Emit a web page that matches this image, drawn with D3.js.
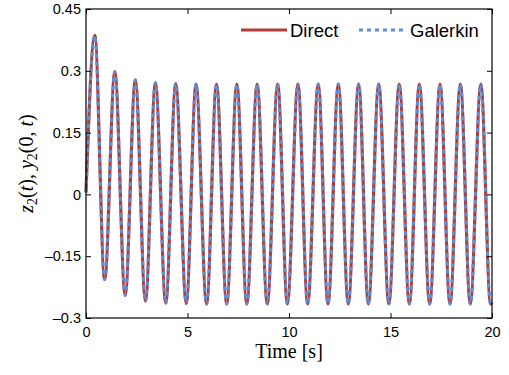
<!DOCTYPE html>
<html>
<head>
<meta charset="utf-8">
<script src="https://cdn.jsdelivr.net/npm/d3@7"></script>
<style>
  body { margin: 0; background: #fff; }
  svg { display: block; }
  .tick text { font-family: "Liberation Sans", Arial, sans-serif; font-size: 14.5px; fill: #000; }
</style>
</head>
<body>
<div id="chart"></div>
<script>
// extrema of the response (time in s, value)
const times = [0, 0.43, 0.92, 1.42, 1.93, 2.43, 2.93, 3.42, 3.93, 4.42, 4.94, 5.42, 5.94, 6.43, 6.93, 7.43, 7.92, 8.43, 8.93,
  9.44, 9.92, 10.44, 10.92, 11.44, 11.92, 12.43, 12.92, 13.43, 13.91, 14.42, 14.92, 15.43, 15.93, 16.42, 16.93,
  17.44, 17.93, 18.44, 18.93, 19.45, 19.93, 20];
const directVals = [0.005, 0.386, -0.207, 0.298, -0.245, 0.278, -0.259, 0.271, -0.264, 0.269, -0.265, 0.268, -0.266, 0.268, -0.266,
  0.268, -0.266, 0.268, -0.266, 0.268, -0.266, 0.268, -0.266, 0.268, -0.266, 0.268, -0.266, 0.268, -0.266, 0.268,
  -0.266, 0.268, -0.266, 0.268, -0.266, 0.268, -0.266, 0.268, -0.266, 0.268, -0.266, -0.262];
const galerkinVals = directVals.slice();

const xTicks = [0, 5, 10, 15, 20];
const yTicks = [-0.3, -0.15, 0, 0.15, 0.3, 0.45];
const yTickLabels = ["\u20130.3", "\u20130.15", "0", "0.15", "0.3", "0.45"];
const seriesNames = ["Direct", "Galerkin"];

const width = 509, height = 375;
const margin = { top: 9, right: 17, bottom: 57, left: 86 };
const w = width - margin.left - margin.right;
const h = height - margin.top - margin.bottom;

const svg = d3.select("#chart").append("svg")
  .attr("width", width)
  .attr("height", height);

const g = svg.append("g")
  .attr("transform", "translate(" + margin.left + "," + margin.top + ")");

const x = d3.scaleLinear().domain([0, 20]).range([0, w]);
const y = d3.scaleLinear().domain([-0.3, 0.45]).range([h, 0]);

// curves
const line = d3.line()
  .x(d => x(d[0]))
  .y(d => y(d[1]))
  .curve(d3.curveMonotoneX);

g.append("path")
  .datum(times.map((t, i) => [t, directVals[i]]))
  .attr("fill", "none")
  .attr("stroke", "#b23b3b")
  .attr("stroke-width", 3.2)
  .attr("d", line);

g.append("path")
  .datum(times.map((t, i) => [t, galerkinVals[i]]))
  .attr("fill", "none")
  .attr("stroke", "#5b8fd8")
  .attr("stroke-width", 3)
  .attr("stroke-dasharray", "4,4")
  .attr("d", line);

// axes (ticks point inward)
const fmtY = d => yTickLabels[yTicks.indexOf(d)];

g.append("g")
  .attr("transform", "translate(0," + h + ")")
  .call(d3.axisBottom(x).tickValues(xTicks).tickSize(-5).tickPadding(9).tickFormat(d3.format("d")));
g.append("g")
  .call(d3.axisLeft(y).tickValues(yTicks).tickSize(-5).tickPadding(5).tickFormat(fmtY));
g.append("g")
  .call(d3.axisTop(x).tickValues(xTicks).tickSize(-5).tickFormat(""));
g.append("g")
  .attr("transform", "translate(" + w + ",0)")
  .call(d3.axisRight(y).tickValues(yTicks).tickSize(-5).tickFormat(""));

g.selectAll(".domain").remove();
g.selectAll(".tick line").attr("stroke", "#000").attr("stroke-width", 1);

g.append("rect")
  .attr("width", w)
  .attr("height", h)
  .attr("fill", "none")
  .attr("stroke", "#000")
  .attr("stroke-width", 1.2);

// axis labels
svg.append("text")
  .attr("x", margin.left + w / 2)
  .attr("y", 358)
  .attr("text-anchor", "middle")
  .style("font-family", "'Liberation Serif', 'Times New Roman', serif")
  .style("font-size", "20px")
  .text("Time [s]");

const ylab = svg.append("text")
  .attr("transform", "translate(33," + (margin.top + h / 2) + ") rotate(-90)")
  .attr("text-anchor", "middle")
  .style("font-family", "'Liberation Serif', 'Times New Roman', serif")
  .style("font-size", "20px");
ylab.append("tspan").style("font-style", "italic").text("z");
ylab.append("tspan").attr("dy", 4).style("font-size", "14px").text("2");
ylab.append("tspan").attr("dy", -4).text("(");
ylab.append("tspan").style("font-style", "italic").text("t");
ylab.append("tspan").text("), ");
ylab.append("tspan").style("font-style", "italic").text("y");
ylab.append("tspan").attr("dy", 4).style("font-size", "14px").text("2");
ylab.append("tspan").attr("dy", -4).text("(0, ");
ylab.append("tspan").style("font-style", "italic").text("t");
ylab.append("tspan").text(")");

// legend
const legend = svg.append("g");
const legendItems = [
  { name: seriesNames[0], x1: 241, x2: 287, tx: 290, color: "#b23b3b", dash: null },
  { name: seriesNames[1], x1: 359, x2: 404, tx: 410, color: "#5b8fd8", dash: "4,4" }
];
legendItems.forEach(d => {
  legend.append("line")
    .attr("x1", d.x1).attr("x2", d.x2)
    .attr("y1", 30).attr("y2", 30)
    .attr("stroke", d.color)
    .attr("stroke-width", 3)
    .attr("stroke-dasharray", d.dash);
  legend.append("text")
    .attr("x", d.tx)
    .attr("y", 37)
    .style("font-family", "'Liberation Sans', Arial, sans-serif")
    .style("font-size", "18.5px")
    .text(d.name);
});
</script>
</body>
</html>
